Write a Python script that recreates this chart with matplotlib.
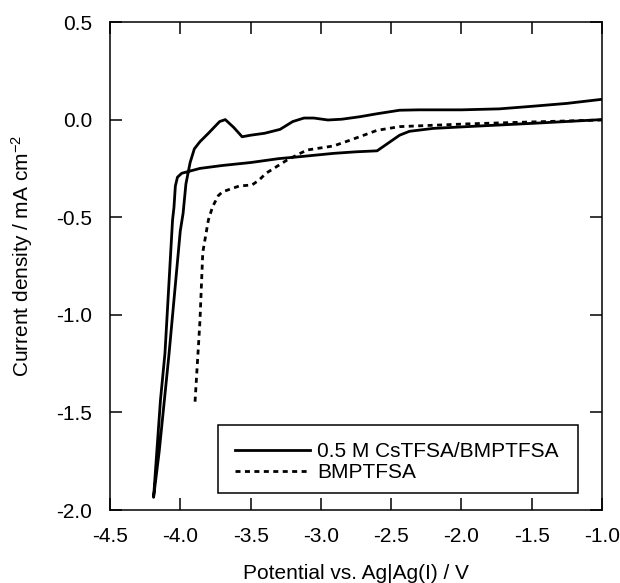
import matplotlib
matplotlib.use("Agg")
import matplotlib.pyplot as plt
from matplotlib.patches import Rectangle

plt.rcParams['font.family'] = ['Liberation Sans', 'DejaVu Sans']
plt.rcParams['mathtext.fontset'] = 'custom'
plt.rcParams['mathtext.rm'] = 'Liberation Sans'
plt.rcParams['mathtext.it'] = 'Liberation Sans:italic'
plt.rcParams['axes.unicode_minus'] = False

# Data
# ~~~~
#- 0.5 M CsTFSA/BMPTFSA : forward scan (upper branch) then reverse scan
cs_x = [-1.0, -1.25, -1.5, -1.73, -2.0, -2.3, -2.44, -2.6, -2.72, -2.85,
        -2.95, -3.05, -3.12, -3.2, -3.29, -3.4, -3.5, -3.56, -3.62, -3.68,
        -3.72, -3.8, -3.86, -3.9, -3.93, -3.96, -3.98, -4.0, -4.08, -4.15,
        -4.19,
        -4.141, -4.109, -4.055, -4.045, -4.035, -4.02, -3.99, -3.86, -3.7,
        -3.5, -3.3, -3.15, -2.91, -2.75, -2.6, -2.52, -2.44, -2.37, -2.2,
        -1.96, -1.49, -1.0]
cs_y = [0.104, 0.083, 0.068, 0.055, 0.05, 0.05, 0.048, 0.03, 0.015, 0.002,
        -0.002, 0.008, 0.008, -0.01, -0.05, -0.07, -0.08, -0.088, -0.04, 0.0,
        -0.01, -0.07, -0.113, -0.15, -0.22, -0.33, -0.48, -0.57, -1.2, -1.7,
        -1.935,
        -1.437, -1.197, -0.514, -0.45, -0.34, -0.295, -0.275, -0.25, -0.235,
        -0.22, -0.2, -0.19, -0.173, -0.165, -0.16, -0.12, -0.08, -0.06, -0.045,
        -0.036, -0.019, 0.0]

#- BMPTFSA
bm_x = [-3.895, -3.86, -3.84, -3.80, -3.77, -3.73, -3.70, -3.58, -3.49,
        -3.44, -3.39, -3.24, -3.10, -2.91, -2.79, -2.6, -2.44, -1.96, -1.5,
        -1.0]
bm_y = [-1.445, -1.03, -0.68, -0.514, -0.446, -0.39, -0.37, -0.34, -0.335,
        -0.31, -0.275, -0.207, -0.156, -0.135, -0.105, -0.055, -0.036, -0.022,
        -0.012, -0.002]

xticks = [-4.5, -4.0, -3.5, -3.0, -2.5, -2.0, -1.5, -1.0]
yticks = [-2.0, -1.5, -1.0, -0.5, 0.0, 0.5]

# Plot
# ~~~~
fig = plt.figure(figsize=(6.2, 5.83), dpi=100)
ax = fig.add_axes([110/620, 73/583, 492/620, 488/583])

ax.plot(cs_x, cs_y, color='black', linewidth=2.0,
        label='0.5 M CsTFSA/BMPTFSA')
ax.plot(bm_x, bm_y, color='black', linewidth=2.0,
        linestyle=(0, (1.8, 1.6)), label='BMPTFSA')

ax.set_xlim(-4.5, -1.0)
ax.set_ylim(-2.0, 0.5)
ax.set_xticks(xticks)
ax.set_yticks(yticks)
ax.set_xticklabels([f'{v:.1f}' for v in xticks])
ax.set_yticklabels([f'{v:.1f}' for v in yticks])

ax.tick_params(direction='in', length=8.6, width=1.1, labelsize=15,
               top=True, right=True)
ax.tick_params(axis='x', pad=12)
ax.tick_params(axis='y', pad=13)
for s in ax.spines.values():
    s.set_linewidth(1.1)

ax.set_xlabel('Potential vs. Ag|Ag(I) / V', fontsize=15, labelpad=13)
ax.set_ylabel('Current density / mA cm$^{-2}$', fontsize=15)
ax.yaxis.set_label_coords(-0.152, 0.52)

#- legend: frame drawn as its own box, entries placed inside it
ax.add_patch(Rectangle((0.2195, 0.0348), 0.7317, 0.139,
                       transform=ax.transAxes, fill=False,
                       edgecolor='black', linewidth=1.1, zorder=5))
leg = ax.legend(loc='upper left', bbox_to_anchor=(0.254, 0.139),
                borderaxespad=0, borderpad=0, fontsize=15, frameon=False,
                handlelength=3.6, handletextpad=0.35, labelspacing=0.1)

fig.savefig('out.png', dpi=100)
